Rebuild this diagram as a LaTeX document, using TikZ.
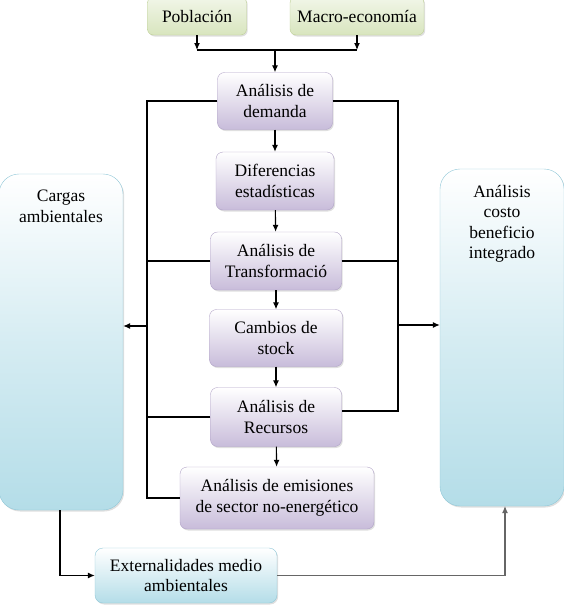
\documentclass[tikz,border=0pt]{standalone}
\usepackage{fontspec}
\setmainfont{Liberation Serif}
\usetikzlibrary{arrows.meta,shadows}
\definecolor{lilabot}{RGB}{200,188,218}
\definecolor{lilaline}{RGB}{176,162,198}
\definecolor{verdebot}{RGB}{216,229,190}
\definecolor{verdeline}{RGB}{190,208,150}
\definecolor{azulbot}{RGB}{180,221,232}
\definecolor{azulline}{RGB}{145,200,216}
\begin{document}
\begin{tikzpicture}[x=1pt,y=-1pt,
  txt/.style={font=\fontsize{17.5}{20.5}\selectfont, align=center, inner sep=0pt},
  lila/.style={txt, draw=lilaline, rounded corners=7pt, top color=white, bottom color=lilabot,
    drop shadow={shadow xshift=1.2pt, shadow yshift=-1.5pt, opacity=0.25}},
  verde/.style={txt, draw=verdeline, rounded corners=6pt, top color=verdebot!35, bottom color=verdebot,
    drop shadow={shadow xshift=1.2pt, shadow yshift=-1.5pt, opacity=0.25}},
  azul/.style={txt, draw=azulline, rounded corners=8pt, top color=white, bottom color=azulbot,
    drop shadow={shadow xshift=1.2pt, shadow yshift=-1.5pt, opacity=0.25}},
  grande/.style={draw=azulline, rounded corners=20pt, top color=white, bottom color=azulbot, middle color=azulbot!55,
    drop shadow={shadow xshift=1.2pt, shadow yshift=-1.5pt, opacity=0.25}},
  flecha/.style={-{Latex[length=7pt,width=6pt]}, line width=1.1pt},
  linea/.style={line width=1.1pt}]
\useasboundingbox (0,0) rectangle (564,606);
% entradas
\node[verde, minimum width=99pt, minimum height=38pt] (pob) at (197,16) {Población};
\node[verde, minimum width=134pt, minimum height=38pt] (macro) at (357,16) {Macro-economía};
% columna central
\node[lila, minimum width=115pt, minimum height=57pt] (dem) at (275,101) {Análisis de\\demanda};
\node[lila, minimum width=118pt, minimum height=58pt] (dif) at (275,181) {Diferencias\\estadísticas};
\node[lila, minimum width=131pt, minimum height=58pt] (tra) at (276,261) {Análisis de\\Transformació};
\node[lila, minimum width=133pt, minimum height=57pt] (sto) at (276,338) {Cambios de\\stock};
\node[lila, minimum width=131pt, minimum height=59pt] (rec) at (276,417) {Análisis de\\Recursos};
\node[lila, minimum width=194pt, minimum height=62pt] (emi) at (277,498) {Análisis de emisiones\\de sector no-energético};
% resultados
\node[grande, minimum width=124pt, minimum height=336pt] (carg) at (61,342) {};
\node[txt, anchor=north] (cargt) at (61,190) {Cargas\\ambientales};
\node[grande, minimum width=124pt, minimum height=337pt] (cost) at (502,337.5) {};
\node[txt, anchor=north] (costt) at (502,185) {Análisis\\costo\\beneficio\\integrado};
\node[azul, minimum width=182pt, minimum height=55pt] (ext) at (186,575.5) {Externalidades medio\\ambientales};
% puntos de union
\coordinate (j1) at (275,50);
\coordinate (bi) at (147,0);
\coordinate (bd) at (398,0);
\draw[linea] (pob |- j1) -- (macro |- j1);
\draw[flecha] (pob) -- (pob |- j1);
\draw[flecha] (macro) -- (macro |- j1);
\draw[flecha] (j1) -- (dem);
\draw[flecha] (dem) -- (dif);
\draw[flecha] (dif) -- (tra);
\draw[flecha] (tra) -- (sto);
\draw[flecha] (sto) -- (rec);
\draw[flecha] (rec) -- (emi);
% bus izquierdo
\draw[linea] (dem.west) -| (bi |- emi.west) -- (emi.west);
\draw[linea] (tra.west) -- (bi |- tra.west);
\draw[linea] (rec.west) -- (bi |- rec.west);
\draw[flecha] (bi |- 0,326) -- (carg.east |- 0,326);
% bus derecho
\draw[linea] (dem.east) -| (bd |- 0,411) -- (rec.east |- 0,411);
\draw[linea] (tra.east) -- (bd |- tra.east);
\draw[flecha] (bd |- 0,325) -- (cost.west |- 0,325);
% externalidades
\draw[flecha] (60,510) |- (ext.west);
\draw[flecha, draw=black!60] (ext.east) -| (505,506);
\end{tikzpicture}
\end{document}
